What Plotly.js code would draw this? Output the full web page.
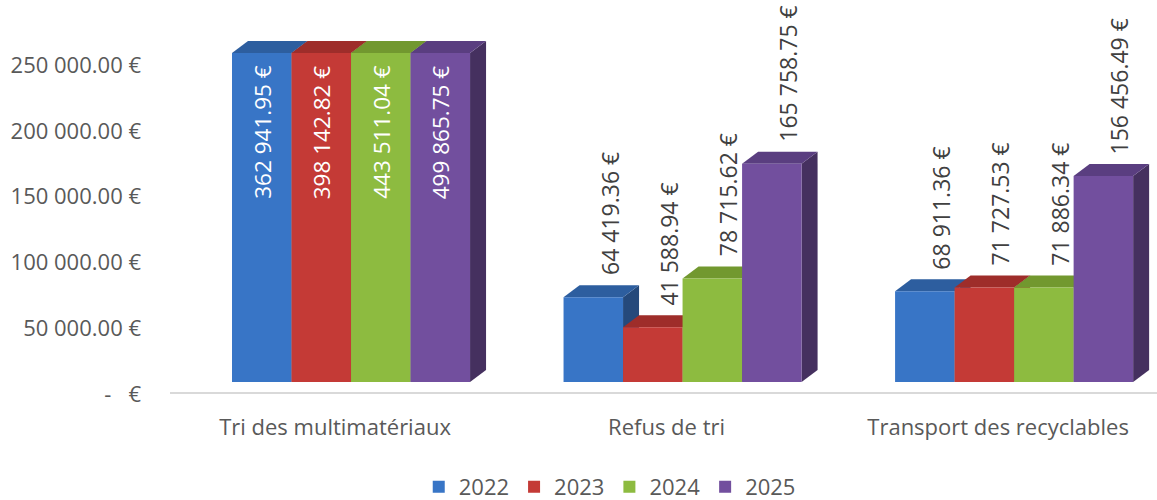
<!DOCTYPE html>
<html><head><meta charset="utf-8">
<script src="https://cdn.plot.ly/plotly-3.0.1.min.js"></script>
<style>html,body{margin:0;padding:0;background:#fff}#chart{width:1157px;height:500px}</style>
</head><body><div id="chart"></div>
<script>
const categories = ['Tri des multimatériaux', 'Refus de tri', 'Transport des recyclables'];
const years = ['2022', '2023', '2024', '2025'];
const v2022 = [362941.95, 64419.36, 68911.36];
const v2023 = [398142.82, 41588.94, 71727.53];
const v2024 = [443511.04, 78715.62, 71886.34];
const v2025 = [499865.75, 165758.75, 156456.49];
const tickValues = [0, 50000, 100000, 150000, 200000, 250000];
const tickLabels = ['-   €', '50 000.00 €', '100 000.00 €', '150 000.00 €', '200 000.00 €', '250 000.00 €'];

const series = [v2022, v2023, v2024, v2025];
const colors = ['#3875C6', '#C43A36', '#8DBB40', '#724F9E'];
const topColors = ['#2D5E9F', '#9E2D2A', '#72982F', '#5A3E80'];
const sideColors = ['#25497B', '#7E2321', '#5B7A25', '#45305F'];
const AXIS_MAX = 250000;
const BARGAP = 0.282;
const X_RANGE = [-0.546, 2.431];
const FONT = 'Open Sans';

// plot-area geometry (from the margins below), used for the 3D depth faces
const W = 1157, H = 500, M = {l: 170, r: 0, t: 53, b: 107};
const Y_DOMAIN = [0.0324, 1];
const plotH = H - M.t - M.b;
const pxPerX = (W - M.l - M.r) / (X_RANGE[1] - X_RANGE[0]);
const pxPerY = plotH * (Y_DOMAIN[1] - Y_DOMAIN[0]) / AXIS_MAX;
const DEPTH_X = 16, DEPTH_Y = 12;
const DX = DEPTH_X / pxPerX, DY = DEPTH_Y / pxPerY, DYP = DEPTH_Y / plotH;

function fmt(v) {
  const parts = v.toFixed(2).split('.');
  return parts[0].replace(/\B(?=(\d{3})+(?!\d))/g, ' ') + '.' + parts[1] + ' €';
}

const traces = [];
const annotations = [];
const shapes = [];
const slot = (1 - BARGAP) / series.length;
series.forEach((vals, i) => {
  vals.forEach((v, k) => {
    const xc = k + (i - (series.length - 1) / 2) * slot;
    const x0 = xc - slot / 2, x1 = xc + slot / 2;
    const vt = Math.min(v, AXIS_MAX);
    const clipped = v > AXIS_MAX;
    // side face
    shapes.push({type: 'path', xref: 'x', yref: 'y', layer: 'below', line: {width: 0},
      fillcolor: sideColors[i],
      path: `M${x1},0 L${x1 + DX},${DY} L${x1 + DX},${vt + DY} L${x1},${vt} Z`});
    if (clipped) {
      // top of a bar cut at the axis maximum: faces drawn just above the plot area
      shapes.push({type: 'path', xref: 'x', yref: 'paper', layer: 'below', line: {width: 0},
        fillcolor: sideColors[i],
        path: `M${x1},1 L${x1 + DX},${1 + DYP} L${x1 + DX},1 Z`});
      shapes.push({type: 'path', xref: 'x', yref: 'paper', layer: 'below', line: {width: 0},
        fillcolor: topColors[i],
        path: `M${x0},1 L${x1},1 L${x1 + DX},${1 + DYP} L${x0 + DX},${1 + DYP} Z`});
      annotations.push({
        xref: 'x', yref: 'paper', x: xc, y: 1,
        xanchor: 'center', yanchor: 'top', yshift: -10, textangle: -90, showarrow: false,
        text: fmt(v), font: {color: '#ffffff', size: 22.5, family: FONT}
      });
    } else {
      shapes.push({type: 'path', xref: 'x', yref: 'y', layer: 'below', line: {width: 0},
        fillcolor: topColors[i],
        path: `M${x0},${vt} L${x1},${vt} L${x1 + DX},${vt + DY} L${x0 + DX},${vt + DY} Z`});
      annotations.push({
        xref: 'x', yref: 'y', x: xc, y: v,
        xanchor: 'center', yanchor: 'bottom', xshift: DEPTH_X, yshift: 20, textangle: -90,
        showarrow: false, text: fmt(v), font: {color: '#404040', size: 23, family: FONT}
      });
    }
  });
  traces.push({
    type: 'bar', name: years[i], x: categories, y: vals,
    offsetgroup: years[i], legendgroup: years[i], showlegend: true,
    marker: {color: colors[i], line: {width: 0}},
    textposition: 'none', cliponaxis: true, hoverinfo: 'skip'
  });
});

const layout = {
  width: W, height: H,
  margin: {l: M.l, r: M.r, t: M.t, b: M.b, autoexpand: false},
  paper_bgcolor: '#ffffff', plot_bgcolor: '#ffffff',
  separators: '. ',
  font: {family: FONT, size: 22, color: '#595959'},
  barmode: 'group', bargap: BARGAP, bargroupgap: 0,
  showlegend: true,
  annotations: annotations,
  shapes: shapes,
  legend: {orientation: 'h', xref: 'container', yref: 'container', x: 0.527, xanchor: 'center',
           y: 0.026, yanchor: 'middle', font: {size: 22, color: '#595959', family: FONT},
           traceorder: 'normal', itemwidth: 30},
  xaxis: {type: 'category', categoryorder: 'array', categoryarray: categories,
          range: X_RANGE, anchor: 'free', position: 0,
          showline: true, linecolor: '#d9d9d9', linewidth: 2, ticks: '',
          showgrid: false, zeroline: false, ticklabelshift: -16, ticklabelstandoff: 15,
          tickfont: {size: 22, color: '#595959', family: FONT}, automargin: false, fixedrange: true},
  yaxis: {domain: Y_DOMAIN, range: [0, AXIS_MAX], tickvals: tickValues, ticktext: tickLabels,
          showgrid: false, zeroline: false, showline: false, ticks: '',
          ticklabelshift: 12, ticklabelstandoff: 28,
          tickfont: {size: 22, color: '#595959', family: FONT}, automargin: false, fixedrange: true}
};

Plotly.newPlot('chart', traces, layout, {displayModeBar: false, staticPlot: true});
</script>
</body></html>
